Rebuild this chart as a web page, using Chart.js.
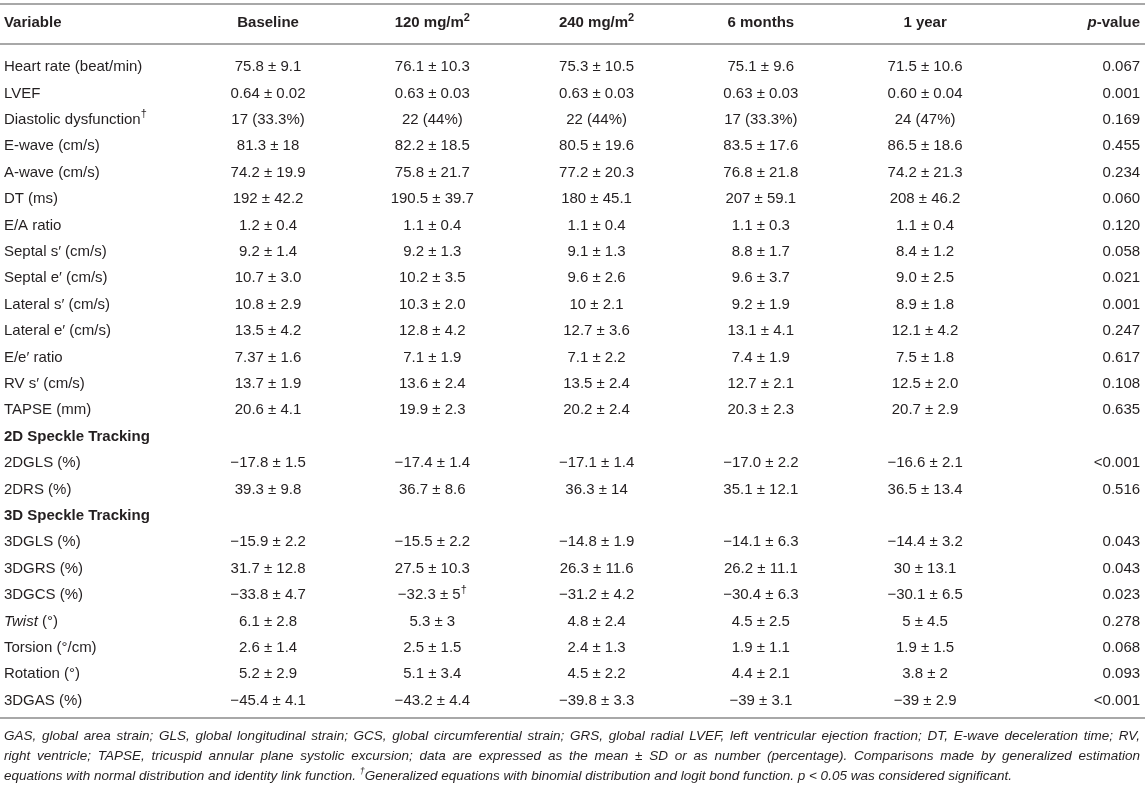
<!DOCTYPE html>
<html>
<head>
<meta charset="utf-8">
<script src="https://cdn.jsdelivr.net/npm/chart.js@4.4.0/dist/chart.umd.min.js"></script>
<style>
  html, body { margin: 0; padding: 0; background: #fff; }
  #wrap { width: 1145px; height: 792px; }
</style>
</head>
<body>
<div id="wrap"><canvas id="tbl" width="1145" height="792"></canvas></div>
<script>
// ---- table data (markup: _italic_, ^superscript^) ----
var columns = ['Variable', 'Baseline', '120 mg/m^2^', '240 mg/m^2^', '6 months', '1 year', '_p_-value'];

var variables = [
    'Heart rate (beat/min)', 'LVEF', 'Diastolic dysfunction^†^', 'E-wave (cm/s)', 'A-wave (cm/s)',
    'DT (ms)', 'E/A ratio', 'Septal s′ (cm/s)', 'Septal e′ (cm/s)', 'Lateral s′ (cm/s)',
    'Lateral e′ (cm/s)', 'E/e′ ratio', 'RV s′ (cm/s)', 'TAPSE (mm)',
    '2D Speckle Tracking', '2DGLS (%)', '2DRS (%)',
    '3D Speckle Tracking', '3DGLS (%)', '3DGRS (%)', '3DGCS (%)', '_Twist_ (°)',
    'Torsion (°/cm)', 'Rotation (°)', '3DGAS (%)'
];

var baseline = [
    '75.8 ± 9.1', '0.64 ± 0.02', '17 (33.3%)', '81.3 ± 18', '74.2 ± 19.9',
    '192 ± 42.2', '1.2 ± 0.4', '9.2 ± 1.4', '10.7 ± 3.0', '10.8 ± 2.9',
    '13.5 ± 4.2', '7.37 ± 1.6', '13.7 ± 1.9', '20.6 ± 4.1',
    null, '−17.8 ± 1.5', '39.3 ± 9.8',
    null, '−15.9 ± 2.2', '31.7 ± 12.8', '−33.8 ± 4.7', '6.1 ± 2.8',
    '2.6 ± 1.4', '5.2 ± 2.9', '−45.4 ± 4.1'
];

var dose120 = [
    '76.1 ± 10.3', '0.63 ± 0.03', '22 (44%)', '82.2 ± 18.5', '75.8 ± 21.7',
    '190.5 ± 39.7', '1.1 ± 0.4', '9.2 ± 1.3', '10.2 ± 3.5', '10.3 ± 2.0',
    '12.8 ± 4.2', '7.1 ± 1.9', '13.6 ± 2.4', '19.9 ± 2.3',
    null, '−17.4 ± 1.4', '36.7 ± 8.6',
    null, '−15.5 ± 2.2', '27.5 ± 10.3', '−32.3 ± 5^†^', '5.3 ± 3',
    '2.5 ± 1.5', '5.1 ± 3.4', '−43.2 ± 4.4'
];

var dose240 = [
    '75.3 ± 10.5', '0.63 ± 0.03', '22 (44%)', '80.5 ± 19.6', '77.2 ± 20.3',
    '180 ± 45.1', '1.1 ± 0.4', '9.1 ± 1.3', '9.6 ± 2.6', '10 ± 2.1',
    '12.7 ± 3.6', '7.1 ± 2.2', '13.5 ± 2.4', '20.2 ± 2.4',
    null, '−17.1 ± 1.4', '36.3 ± 14',
    null, '−14.8 ± 1.9', '26.3 ± 11.6', '−31.2 ± 4.2', '4.8 ± 2.4',
    '2.4 ± 1.3', '4.5 ± 2.2', '−39.8 ± 3.3'
];

var month6 = [
    '75.1 ± 9.6', '0.63 ± 0.03', '17 (33.3%)', '83.5 ± 17.6', '76.8 ± 21.8',
    '207 ± 59.1', '1.1 ± 0.3', '8.8 ± 1.7', '9.6 ± 3.7', '9.2 ± 1.9',
    '13.1 ± 4.1', '7.4 ± 1.9', '12.7 ± 2.1', '20.3 ± 2.3',
    null, '−17.0 ± 2.2', '35.1 ± 12.1',
    null, '−14.1 ± 6.3', '26.2 ± 11.1', '−30.4 ± 6.3', '4.5 ± 2.5',
    '1.9 ± 1.1', '4.4 ± 2.1', '−39 ± 3.1'
];

var year1 = [
    '71.5 ± 10.6', '0.60 ± 0.04', '24 (47%)', '86.5 ± 18.6', '74.2 ± 21.3',
    '208 ± 46.2', '1.1 ± 0.4', '8.4 ± 1.2', '9.0 ± 2.5', '8.9 ± 1.8',
    '12.1 ± 4.2', '7.5 ± 1.8', '12.5 ± 2.0', '20.7 ± 2.9',
    null, '−16.6 ± 2.1', '36.5 ± 13.4',
    null, '−14.4 ± 3.2', '30 ± 13.1', '−30.1 ± 6.5', '5 ± 4.5',
    '1.9 ± 1.5', '3.8 ± 2', '−39 ± 2.9'
];

var pValues = [
    '0.067', '0.001', '0.169', '0.455', '0.234',
    '0.060', '0.120', '0.058', '0.021', '0.001',
    '0.247', '0.617', '0.108', '0.635',
    null, '<0.001', '0.516',
    null, '0.043', '0.043', '0.023', '0.278',
    '0.068', '0.093', '<0.001'
];

var footnoteLines = [
    'GAS, global area strain; GLS, global longitudinal strain; GCS, global circumferential strain; GRS, global radial LVEF, left ventricular ejection fraction; DT, E-wave deceleration time; RV,',
    'right ventricle; TAPSE, tricuspid annular plane systolic excursion; data are expressed as the mean ± SD or as number (percentage). Comparisons made by generalized estimation',
    'equations with normal distribution and identity link function. ^†^Generalized equations with binomial distribution and logit bond function. p < 0.05 was considered significant.'
];

// ---- layout (scale units) ----
var colAnchor = [-0.608, 1, 2, 3, 4, 5, 6.309];
var colAlign = ['left', 'center', 'center', 'center', 'center', 'center', 'right'];
var headerRow = -1.667;
var ruleRows = [-2.386, -0.871, 24.66];
var FONT = '"Liberation Sans", Arial, Helvetica, sans-serif';
var INK = '#231f20';
var BODY = 15, NOTE = 13.5;

function parseRich(str) {
    var segs = [], italic = false, sup = false, buf = '';
    for (var i = 0; i < str.length; i++) {
        var c = str[i];
        if (c === '_' || c === '^') {
            if (buf) segs.push({ t: buf, i: italic, s: sup });
            buf = '';
            if (c === '_') italic = !italic; else sup = !sup;
        } else buf += c;
    }
    if (buf) segs.push({ t: buf, i: italic, s: sup });
    return segs;
}

function segFont(seg, size, bold, italicAll) {
    var sz = seg.s ? Math.round(size * 0.7) : size;
    return ((seg.i || italicAll) ? 'italic ' : '') + (bold ? 'bold ' : '') + sz + 'px ' + FONT;
}

function measureRich(ctx, segs, size, bold, italicAll) {
    var w = 0;
    segs.forEach(function (s) {
        ctx.font = segFont(s, size, bold, italicAll);
        w += ctx.measureText(s.t).width;
    });
    return w;
}

function drawRich(ctx, str, x, y, align, size, bold, italicAll) {
    var segs = parseRich(str);
    var w = measureRich(ctx, segs, size, bold, italicAll);
    var cx = align === 'center' ? x - w / 2 : (align === 'right' ? x - w : x);
    ctx.textAlign = 'left';
    ctx.textBaseline = 'middle';
    segs.forEach(function (s) {
        ctx.font = segFont(s, size, bold, italicAll);
        ctx.fillText(s.t, cx, s.s ? y - size * 0.36 : y);
        cx += ctx.measureText(s.t).width;
    });
    return w;
}

function drawJustified(ctx, str, x0, x1, y, size, justify) {
    var words = str.split(' ');
    var widths = words.map(function (wd) { return measureRich(ctx, parseRich(wd), size, false, true); });
    var total = widths.reduce(function (a, b) { return a + b; }, 0);
    ctx.font = 'italic ' + size + 'px ' + FONT;
    var gap = ctx.measureText(' ').width;
    if (justify) gap = (x1 - x0 - total) / (words.length - 1);
    var cx = x0;
    words.forEach(function (wd, k) {
        drawRich(ctx, wd, cx, y, 'left', size, false, true);
        cx += widths[k] + gap;
    });
}

var tablePlugin = {
    id: 'tableText',
    afterDraw: function (chart) {
        var ctx = chart.ctx, xs = chart.scales.x, ys = chart.scales.y;
        var left = chart.chartArea.left, right = chart.chartArea.right;
        ctx.save();
        // rules
        ctx.strokeStyle = '#a8a8a8';
        ctx.lineWidth = 2;
        ruleRows.forEach(function (r) {
            var py = Math.round(ys.getPixelForValue(r));
            ctx.beginPath();
            ctx.moveTo(left, py);
            ctx.lineTo(right, py);
            ctx.stroke();
        });
        ctx.fillStyle = INK;
        // header
        columns.forEach(function (c, k) {
            drawRich(ctx, c, xs.getPixelForValue(colAnchor[k]), ys.getPixelForValue(headerRow), colAlign[k], BODY, true, false);
        });
        // row labels
        variables.forEach(function (v, r) {
            var section = baseline[r] === null;
            drawRich(ctx, v, xs.getPixelForValue(colAnchor[0]), ys.getPixelForValue(r), 'left', BODY, section, false);
        });
        // cells, placed at each dataset point
        chart.data.datasets.forEach(function (ds, d) {
            var meta = chart.getDatasetMeta(d);
            meta.data.forEach(function (pt, k) {
                drawRich(ctx, ds.data[k].label, pt.x, pt.y, colAlign[d + 1], BODY, false, false);
            });
        });
        // footnote
        var base = ys.getPixelForValue(ruleRows[2]);
        footnoteLines.forEach(function (line, k) {
            drawJustified(ctx, line, left + 4, right - 5, base + 18 + k * 20, NOTE, k < footnoteLines.length - 1);
        });
        ctx.restore();
    }
};

function cellPoints(values, col) {
    var pts = [];
    values.forEach(function (v, r) {
        if (v !== null) pts.push({ x: colAnchor[col], y: r, label: v });
    });
    return pts;
}

var series = [baseline, dose120, dose240, month6, year1, pValues];

new Chart(document.getElementById('tbl'), {
    type: 'scatter',
    data: {
        datasets: series.map(function (s, i) {
            return { label: columns[i + 1], data: cellPoints(s, i + 1), pointRadius: 0, pointHoverRadius: 0 };
        })
    },
    options: {
        responsive: false,
        animation: false,
        events: [],
        layout: { padding: 0 },
        plugins: { legend: { display: false }, tooltip: { enabled: false } },
        scales: {
            x: { type: 'linear', min: -0.632, max: 6.339, display: false },
            y: { type: 'linear', reverse: true, min: -2.538, max: 27.462, display: false }
        }
    },
    plugins: [tablePlugin]
});
</script>
</body>
</html>
